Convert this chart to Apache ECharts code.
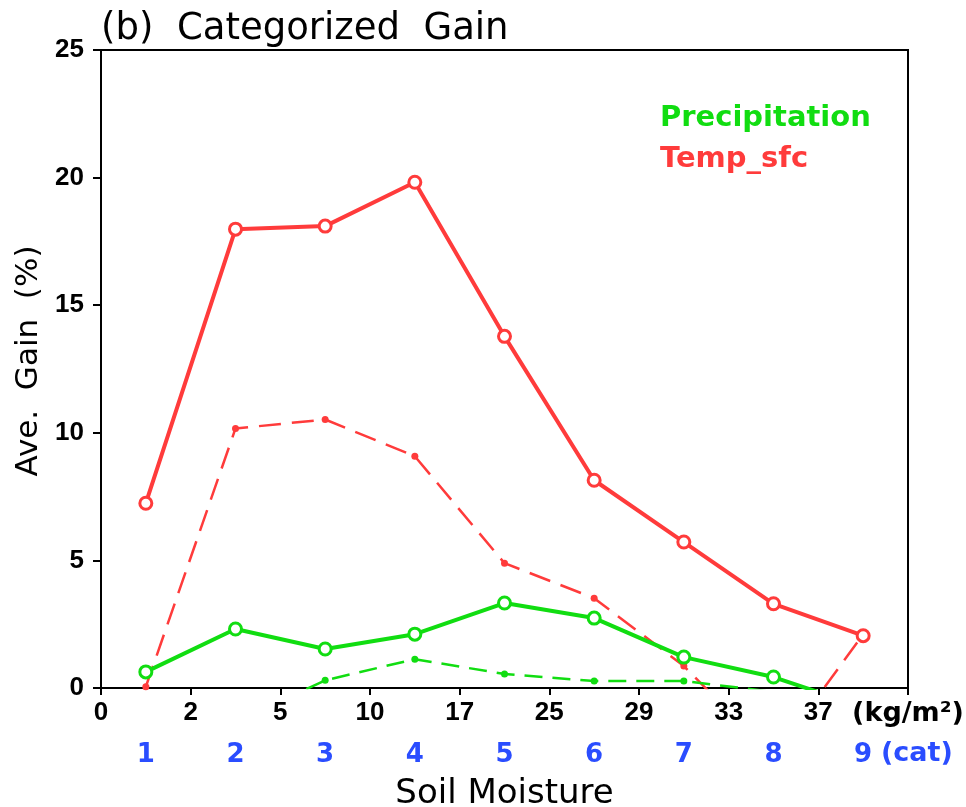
<!DOCTYPE html>
<html>
<head>
<meta charset="utf-8">
<style>
  html, body { margin: 0; padding: 0; background: #ffffff; }
  #chart { width: 966px; height: 807px; }
</style>
<script src="https://cdn.jsdelivr.net/npm/echarts@6/dist/echarts.min.js"></script>
</head>
<body>
<div id="chart"></div>
<script>
// Soil moisture categories and their bin edges (kg/m²)
const categories = ['1', '2', '3', '4', '5', '6', '7', '8', '9'];
const edgeLabels = ['0', '2', '5', '10', '17', '25', '29', '33', '37', '(kg/m\u00b2)'];

// Average gain (%) per category
const tempSolid    = [7.24, 17.98, 18.1, 19.82, 13.78, 8.14, 5.72, 3.3, 2.05];
const tempDashed   = [0.05, 10.17, 10.52, 9.08, 4.89, 3.52, 0.86, -2.7, 2.1];
const precipSolid  = [0.63, 2.31, 1.53, 2.11, 3.33, 2.74, 1.21, 0.43, -0.75];
const precipDashed = [-1.0, -1.33, 0.3, 1.13, 0.55, 0.27, 0.27, -0.15, -0.3];

const yTicks = [0, 5, 10, 15, 20, 25];

const RED = '#ff3b3b';
const GREEN = '#11dd11';
const BLUE = '#2a4dff';
const FONT = 'DejaVu Sans';

// place each category value at the centre of its bin
const toPoints = arr => arr.map((v, i) => [i + 0.5, v]);

const chart = echarts.init(document.getElementById('chart'));

chart.setOption({
  backgroundColor: '#ffffff',
  animation: false,
  title: {
    text: '(b)  Categorized  Gain',
    left: 96,
    top: 6,
    textStyle: { fontFamily: FONT, fontSize: 37, fontWeight: 'normal', color: '#000' }
  },
  legend: {
    orient: 'vertical',
    left: 650,
    top: 99,
    icon: 'none',
    itemWidth: 0,
    itemHeight: 0,
    itemGap: 12,
    selectedMode: false,
    textStyle: { fontFamily: FONT, fontSize: 29, fontWeight: 'bold', padding: 0 },
    data: [
      { name: 'Precipitation', textStyle: { color: GREEN } },
      { name: 'Temp_sfc', textStyle: { color: RED } }
    ]
  },
  grid: {
    left: 101, right: 58, top: 50, bottom: 119,
    outerBoundsMode: 'none',
    containLabel: false,
    show: true, borderColor: '#000', borderWidth: 2
  },
  xAxis: [
    {
      type: 'value',
      min: 0, max: 9, interval: 1,
      axisLine: { lineStyle: { color: '#000', width: 2 } },
      axisTick: { length: 7, lineStyle: { color: '#000', width: 2 } },
      splitLine: { show: false },
      axisLabel: {
        margin: 12,
        fontFamily: 'Liberation Sans', fontWeight: 'bold', fontSize: 26, color: '#000',
        showMaxLabel: true,
        formatter: v => {
          const i = Math.round(v);
          return i === edgeLabels.length - 1 ? '{u|' + edgeLabels[i] + '}' : edgeLabels[i];
        },
        rich: {
          u: { fontFamily: FONT, fontWeight: 'bold', fontSize: 27, color: '#000' }
        }
      },
      name: 'Soil Moisture',
      nameLocation: 'middle',
      nameGap: 89,
      nameTextStyle: { fontFamily: FONT, fontSize: 34, color: '#000' }
    },
    {
      type: 'category',
      position: 'bottom',
      data: categories,
      boundaryGap: true,
      axisLine: { show: false },
      axisTick: { show: false },
      splitLine: { show: false },
      axisLabel: {
        margin: 54,
        fontFamily: FONT, fontWeight: 'bold', fontSize: 26, color: BLUE
      }
    }
  ],
  yAxis: {
    type: 'value',
    min: yTicks[0], max: yTicks[yTicks.length - 1], interval: 5,
    axisLine: { show: true, lineStyle: { color: '#000', width: 2 } },
    axisTick: { show: true, length: 8, lineStyle: { color: '#000', width: 2 } },
    splitLine: { show: false },
    axisLabel: {
      margin: 17,
      fontFamily: 'Liberation Sans', fontWeight: 'bold', fontSize: 26, color: '#000'
    },
    name: 'Ave.  Gain  (%)',
    nameLocation: 'middle',
    nameGap: 57,
    nameTextStyle: { fontFamily: FONT, fontSize: 31, color: '#000', padding: [0, 0, 0, 16] }
  },
  graphic: [
    {
      type: 'text',
      left: 881,
      top: 740,
      style: { text: '(cat)', font: 'bold 27px "DejaVu Sans"', fill: BLUE }
    }
  ],
  series: [
    {
      name: 'Temp_sfc',
      type: 'line',
      clip: true,
      xAxisIndex: 0,
      data: toPoints(tempSolid),
      color: RED,
      lineStyle: { color: RED, width: 4 },
      symbol: 'circle',
      symbolSize: 12,
      itemStyle: { color: '#fff', borderColor: RED, borderWidth: 3 },
      z: 4
    },
    {
      name: 'Temp_sfc (dashed)',
      type: 'line',
      clip: true,
      xAxisIndex: 0,
      data: toPoints(tempDashed),
      lineStyle: { color: RED, width: 2.5, type: [22, 11] },
      symbol: 'circle',
      symbolSize: 7,
      itemStyle: { color: RED },
      z: 3
    },
    {
      name: 'Precipitation',
      type: 'line',
      clip: true,
      xAxisIndex: 0,
      data: toPoints(precipSolid),
      color: GREEN,
      lineStyle: { color: GREEN, width: 4 },
      symbol: 'circle',
      symbolSize: 12,
      itemStyle: { color: '#fff', borderColor: GREEN, borderWidth: 3 },
      z: 4
    },
    {
      name: 'Precipitation (dashed)',
      type: 'line',
      clip: true,
      xAxisIndex: 0,
      data: toPoints(precipDashed),
      lineStyle: { color: GREEN, width: 2.5, type: [18, 10] },
      symbol: 'circle',
      symbolSize: 7,
      itemStyle: { color: GREEN },
      z: 3
    }
  ]
});
</script>
</body>
</html>
